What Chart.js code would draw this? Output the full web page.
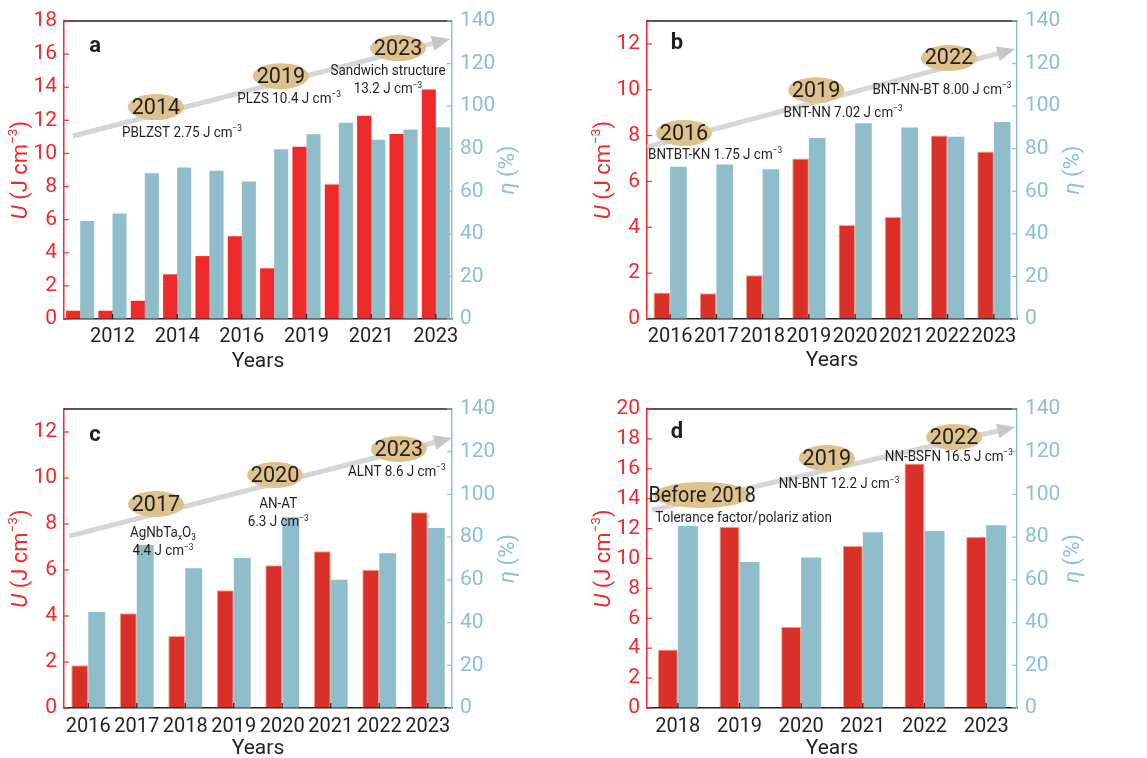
<!DOCTYPE html>
<html>
<head>
<meta charset="utf-8">
<script src="https://cdn.jsdelivr.net/npm/chart.js@4.4.1/dist/chart.umd.min.js"></script>
<style>
  html, body { margin: 0; padding: 0; background: #fff; }
  #wrap { position: relative; width: 1147px; height: 758px; }
  canvas { position: absolute; }
</style>
</head>
<body>
<div id="wrap">
  <canvas id="panelA" width="560" height="380" style="left:0;top:0"></canvas>
  <canvas id="panelB" width="587" height="380" style="left:560px;top:0"></canvas>
  <canvas id="panelC" width="560" height="378" style="left:0;top:380px"></canvas>
  <canvas id="panelD" width="587" height="378" style="left:560px;top:380px"></canvas>
</div>
<script>
// ---- data ----
const yearsA = ['2011', '2012', '2013', '2014', '2015', '2016', '2018', '2019', '2020', '2021', '2022', '2023'];
const energyA = [0.5, 0.5, 1.1, 2.7, 3.8, 5.0, 3.06, 10.4, 8.13, 12.27, 11.17, 13.86];
const effA = [46.0, 49.6, 68.5, 71.2, 69.6, 64.6, 79.8, 86.8, 92.2, 84.2, 89.0, 90.1];
const milestonesA = ['2014', '2019', '2023'];
const notesA = ['PBLZST 2.75 J cm^{−3}', 'PLZS 10.4 J cm^{−3}', 'Sandwich structure|13.2 J cm^{−3}'];

const yearsB = ['2016', '2017', '2018', '2019', '2020', '2021', '2022', '2023'];
const energyB = [1.16, 1.12, 1.91, 7.0, 4.1, 4.45, 8.0, 7.31];
const effB = [71.5, 72.6, 70.4, 85.0, 92.0, 90.0, 85.6, 92.5];
const milestonesB = ['2016', '2019', '2022'];
const notesB = ['BNTBT-KN 1.75 J cm^{−3}', 'BNT-NN 7.02 J cm^{−3}', 'BNT-NN-BT 8.00 J cm^{−3}'];

const yearsC = ['2016', '2017', '2018', '2019', '2020', '2021', '2022', '2023'];
const energyC = [1.86, 4.12, 3.13, 5.12, 6.21, 6.81, 6.01, 8.51];
const effC = [45.0, 76.3, 65.4, 70.2, 89.3, 60.1, 72.4, 84.3];
const milestonesC = ['2017', '2020', '2023'];
const notesC = ['AgNbTa_{x}O_{3}|4.4 J cm^{−3}', 'AN-AT|6.3 J cm^{−3}', 'ALNT 8.6 J cm^{−3}'];

const yearsD = ['2018', '2019', '2020', '2021', '2022', '2023'];
const energyD = [3.91, 12.13, 5.43, 10.84, 16.36, 11.46];
const effD = [85.2, 68.4, 70.5, 82.3, 82.9, 85.6];
const milestonesD = ['Before 2018', '2019', '2022'];
const notesD = ['Tolerance factor/polariz ation', 'NN-BNT 12.2 J cm^{−3}', 'NN-BSFN 16.5 J cm^{−3}'];

const energyTitle = '*U* (J cm^{−3})';
const effTitle = '*η* (%)';
const xTitle = 'Years';

// ---- styles ----
const FONT = 'Roboto, "Liberation Sans", Arial, sans-serif';
const INK = '#231F20';
const AXIS_RED = '#EE2A2A';
const AXIS_BLUE = '#8DC1CD';
const BAR_BLUE = '#8FBECA';
const TAN = '#DEC28D';

Chart.defaults.font.family = FONT;

// tiny markup: ^{sup} _{sub} *italic*
function richParts(str) {
    const parts = [];
    const re = /\^\{([^}]*)\}|_\{([^}]*)\}|\*([^*]*)\*/g;
    let last = 0, m;
    while ((m = re.exec(str)) !== null) {
        if (m.index > last) parts.push({ t: str.slice(last, m.index) });
        if (m[1] !== undefined) parts.push({ t: m[1], sup: true });
        else if (m[2] !== undefined) parts.push({ t: m[2], sub: true });
        else parts.push({ t: m[3], italic: true });
        last = re.lastIndex;
    }
    if (last < str.length) parts.push({ t: str.slice(last) });
    return parts;
}

function drawRich(ctx, str, x, y, size, color, align, opts = {}) {
    const parts = richParts(str);
    const sx = opts.sx || 1;
    const fontFor = p => [p.italic ? 'italic' : '', opts.bold ? 'bold' : '',
        ((p.sup || p.sub) ? size * 0.62 : size) + 'px', FONT].filter(Boolean).join(' ');
    let total = 0;
    parts.forEach(p => { ctx.font = fontFor(p); p.w = ctx.measureText(p.t).width; total += p.w; });
    ctx.save();
    ctx.translate(x, y);
    ctx.scale(sx, 1);
    let cx = align === 'center' ? -total / 2 : align === 'right' ? -total : 0;
    ctx.fillStyle = color;
    ctx.textAlign = 'left';
    ctx.textBaseline = 'middle';
    parts.forEach(p => {
        ctx.font = fontFor(p);
        const dy = p.sup ? -size * 0.32 : p.sub ? size * 0.28 : 0;
        ctx.fillText(p.t, cx, dy);
        cx += p.w;
    });
    ctx.restore();
}

function drawArrow(ctx, x1, y1, x2, y2) {
    const ang = Math.atan2(y2 - y1, x2 - x1);
    const head = 18, hw = 7.5;
    const bx = x2 - head * Math.cos(ang), by = y2 - head * Math.sin(ang);
    ctx.strokeStyle = '#D6D6D6';
    ctx.lineWidth = 5;
    ctx.beginPath(); ctx.moveTo(x1, y1); ctx.lineTo(bx, by); ctx.stroke();
    ctx.fillStyle = '#C6C6C6';
    ctx.beginPath();
    ctx.moveTo(x2, y2);
    ctx.lineTo(bx - hw * Math.sin(ang), by + hw * Math.cos(ang));
    ctx.lineTo(bx + hw * Math.sin(ang), by - hw * Math.cos(ang));
    ctx.closePath(); ctx.fill();
}

function makeDecor(p) {
    return {
        id: 'decor',
        afterDraw(chart) {
            const { ctx, chartArea: a, scales } = chart;
            const px = f => a.left + f * (a.right - a.left);
            const py = f => a.top + f * (a.bottom - a.top);
            const line = (x1, y1, x2, y2) => { ctx.beginPath(); ctx.moveTo(x1, y1); ctx.lineTo(x2, y2); ctx.stroke(); };
            ctx.save();

            // frame top + inward ticks
            ctx.strokeStyle = INK; ctx.lineWidth = 1.5;
            line(a.left, a.top, a.right, a.top);
            ctx.lineWidth = 1.2;
            ctx.strokeStyle = AXIS_RED;
            scales.y.ticks.forEach((t, i) => { const y = scales.y.getPixelForTick(i); line(a.left, y, a.left + 5, y); });
            ctx.strokeStyle = AXIS_BLUE;
            scales.y1.ticks.forEach((t, i) => { const y = scales.y1.getPixelForTick(i); line(a.right - 5, y, a.right, y); });
            ctx.strokeStyle = INK;
            scales.x.ticks.forEach((t, i) => {
                if (i % p.tickEvery !== p.tickEvery - 1) return;
                const x = scales.x.getPixelForTick(i);
                line(x, a.bottom, x, a.bottom - 5);
            });

            // axis titles
            const midY = (a.top + a.bottom) / 2;
            ctx.save(); ctx.translate(a.left - 43, midY); ctx.rotate(-Math.PI / 2);
            drawRich(ctx, energyTitle, 0, 0, 22, AXIS_RED, 'center');
            ctx.restore();
            ctx.save(); ctx.translate(a.right + 56, midY); ctx.rotate(-Math.PI / 2);
            drawRich(ctx, effTitle, 0, 0, 22, AXIS_BLUE, 'center');
            ctx.restore();
            drawRich(ctx, xTitle, (a.left + a.right) / 2, a.bottom + p.titleGap, 21, INK, 'center');

            // trend arrow, milestones, notes
            drawArrow(ctx, px(p.arrow[0]), py(p.arrow[1]), px(p.arrow[2]), py(p.arrow[3]));
            p.milestones.forEach((label, i) => {
                const [fx, fy, rx, sx] = p.bubbles[i];
                ctx.fillStyle = TAN;
                ctx.beginPath();
                ctx.ellipse(px(fx), py(fy), rx || 28, 13, 0, 0, Math.PI * 2);
                ctx.fill();
                drawRich(ctx, label, px(fx), py(fy) + 1, 22, INK, 'center', { sx: sx || 0.98 });
            });
            p.notes.forEach((note, i) => {
                const [fx, fy, align] = p.notePos[i];
                note.split('|').forEach((ln, k) => {
                    drawRich(ctx, ln, px(fx), py(fy) + k * 18, 14, INK, align || 'center', { sx: 0.96 });
                });
            });
            drawRich(ctx, p.letter, px(p.letterPos[0]), py(p.letterPos[1]), 22, INK, 'center', { bold: true });
            ctx.restore();
        }
    };
}

function buildPanel(p) {
    const canvas = document.getElementById(p.canvas);
    const W = canvas.width, H = canvas.height;
    const [L, T, R, B] = p.area;
    return new Chart(canvas, {
        type: 'bar',
        data: {
            labels: p.years,
            datasets: [
                {
                    label: 'U', data: p.energy, yAxisID: 'y',
                    backgroundColor: p.barRed,
                    borderColor: p.barEdge || p.barRed,
                    borderWidth: p.barEdge ? 1 : 0,
                    categoryPercentage: p.barPct, barPercentage: 1
                },
                {
                    label: 'eta', data: p.eff, yAxisID: 'y1',
                    backgroundColor: BAR_BLUE, borderWidth: 0,
                    categoryPercentage: p.barPct, barPercentage: 1
                }
            ]
        },
        options: {
            responsive: false,
            animation: false,
            devicePixelRatio: 1,
            layout: { padding: { top: T, left: 0, right: 0, bottom: 0 } },
            plugins: { legend: { display: false }, tooltip: { enabled: false } },
            scales: {
                x: {
                    grid: { drawOnChartArea: false, drawTicks: false },
                    border: { color: INK, width: 1.5 },
                    ticks: {
                        color: INK, font: { size: 20 }, padding: p.xPad,
                        autoSkip: false, maxRotation: 0, minRotation: 0,
                        callback: (v, i) => (i % p.tickEvery === p.tickEvery - 1 ? p.years[i] : '')
                    },
                    afterFit: s => { s.height = H - B; }
                },
                y: {
                    position: 'left', min: 0, max: p.energyMax,
                    grid: { drawOnChartArea: false, drawTicks: false },
                    border: { color: AXIS_RED, width: 1.5 },
                    ticks: { stepSize: 2, includeBounds: false, color: AXIS_RED, font: { size: 21 }, padding: 7 },
                    afterFit: s => { s.width = L; }
                },
                y1: {
                    position: 'right', min: 0, max: 140,
                    grid: { drawOnChartArea: false, drawTicks: false },
                    border: { color: AXIS_BLUE, width: 1.5 },
                    ticks: { stepSize: 20, color: AXIS_BLUE, font: { size: 21 }, padding: 8 },
                    afterFit: s => { s.width = W - R; }
                }
            }
        },
        plugins: [makeDecor(p)]
    });
}

buildPanel({
    canvas: 'panelA', letter: 'a', years: yearsA, energy: energyA, eff: effA, energyMax: 18,
    milestones: milestonesA, notes: notesA, tickEvery: 2,
    area: [64, 21, 452, 319], barPct: 0.87, barRed: '#EE2A2A', barEdge: null, xPad: 6, titleGap: 43,
    arrow: [0.023, 0.386, 0.995, 0.060],
    bubbles: [[0.237, 0.289], [0.559, 0.185], [0.861, 0.091]],
    notePos: [[0.304, 0.376], [0.580, 0.262], [0.835, 0.171]],
    letterPos: [0.080, 0.084]
});

buildPanel({
    canvas: 'panelB', letter: 'b', years: yearsB, energy: energyB, eff: effB, energyMax: 13,
    milestones: milestonesB, notes: notesB, tickEvery: 1,
    area: [87, 21, 457, 319], barPct: 0.72, barRed: '#D93029', barEdge: '#EDA886', xPad: 6, titleGap: 42,
    arrow: [0.0, 0.423, 0.995, 0.094],
    bubbles: [[0.100, 0.376], [0.457, 0.232], [0.816, 0.124]],
    notePos: [[0.184, 0.450], [0.530, 0.309], [0.797, 0.232]],
    letterPos: [0.081, 0.077]
});

buildPanel({
    canvas: 'panelC', letter: 'c', years: yearsC, energy: energyC, eff: effC, energyMax: 13,
    milestones: milestonesC, notes: notesC, tickEvery: 1,
    area: [64, 29, 452, 328], barPct: 0.70, barRed: '#D93029', barEdge: '#EDA886', xPad: 7, titleGap: 41,
    arrow: [0.013, 0.425, 1.0, 0.097],
    bubbles: [[0.237, 0.318], [0.544, 0.221], [0.863, 0.134]],
    notePos: [[0.255, 0.418], [0.552, 0.321], [0.858, 0.211]],
    letterPos: [0.080, 0.087]
});

buildPanel({
    canvas: 'panelD', letter: 'd', years: yearsD, energy: energyD, eff: effD, energyMax: 20,
    milestones: milestonesD, notes: notesD, tickEvery: 1,
    area: [87, 29, 457, 328], barPct: 0.65, barRed: '#D93029', barEdge: '#EDA886', xPad: 7, titleGap: 41,
    arrow: [0.014, 0.338, 0.995, 0.060],
    bubbles: [[0.149, 0.288, 49, 0.9], [0.486, 0.164], [0.830, 0.094]],
    notePos: [[0.022, 0.365, 'left'], [0.519, 0.254], [0.816, 0.161]],
    letterPos: [0.081, 0.080]
});
</script>
</body>
</html>
